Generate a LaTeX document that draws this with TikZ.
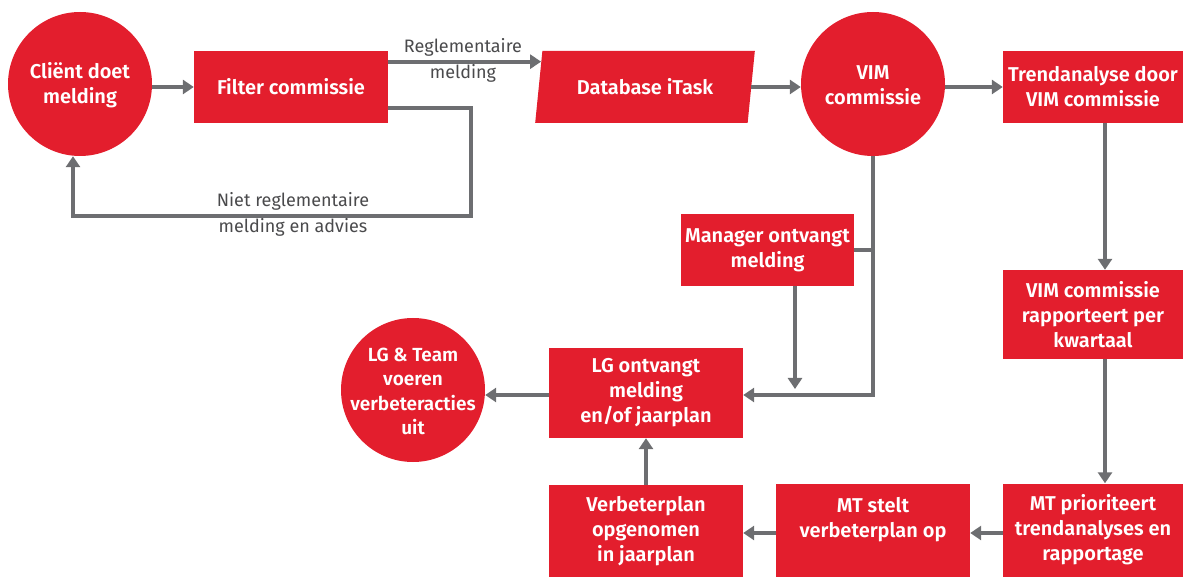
\documentclass[tikz,border=0pt]{standalone}
\usepackage{fontspec}
\setmainfont{Fira Sans}[BoldFont={Fira Sans SemiBold}]
\usetikzlibrary{shapes.geometric,arrows.meta,calc}
\definecolor{vred}{HTML}{E31E2D}
\definecolor{vgray}{HTML}{6D6E71}
\definecolor{tgray}{HTML}{4A4A4C}
\begin{document}
\begin{tikzpicture}[x=1pt,y=-1pt,
  every node/.style={inner sep=0pt, align=center},
  txt/.style={font=\fontsize{20}{25}\selectfont\bfseries, text=white},
  box/.style={txt, fill=vred},
  circ/.style={circle, fill=vred, minimum size=144pt, label={[txt, yshift=-1.5pt]center:#1}},
  circsm/.style={circle, fill=vred, minimum size=144pt,
    label={[txt, font=\fontsize{19}{24.5}\selectfont\bfseries, yshift=-1.5pt]center:#1}},
  dbshape/.style={txt, trapezium, trapezium left angle=73.7, trapezium right angle=106.3,
    trapezium stretches=true, minimum width=220pt, minimum height=72pt, fill=vred},
  lbl/.style={font=\fontsize{18}{26}\selectfont, text=tgray},
  conn/.style={draw=vgray, line width=4pt},
  arr/.style={conn, -{Triangle[length=11pt,width=14pt]}}]
\useasboundingbox (0,0) rectangle (1187,577);
% nodes
\node[circ={Cliënt doet\\melding}] (client) at (80,84) {};
\node[box, minimum width=194pt, minimum height=72pt] (filter) at (291,87) {Filter commissie};
\node[dbshape] (db) at (645,87) {Database iTask};
\node[circ={VIM\\commissie}] (vim) at (873,84) {};
\node[box, minimum width=180pt, minimum height=72pt] (trend) at (1093,87) {Trendanalyse door\\VIM commissie};
\node[box, minimum width=180pt, minimum height=89pt] (vimrap) at (1093,314.5) {VIM commissie\\rapporteert per\\kwartaal};
\node[box, minimum width=180pt, minimum height=93pt] (mtprio) at (1093,530) {MT prioriteert\\trendanalyses en\\rapportage};
\node[box, minimum width=194pt, minimum height=93pt] (mtstelt) at (873,530) {MT stelt\\verbeterplan op\\\mbox{}};
\node[box, minimum width=194pt, minimum height=92pt] (verbeter) at (646,531) {Verbeterplan\\opgenomen\\in jaarplan};
\node[box, minimum width=194pt, minimum height=90pt] (lg) at (646,393) {LG ontvangt\\melding\\en/of jaarplan};
\node[circsm={LG \& Team\\voeren\\verbeteracties\\uit}] (lgteam) at (413,390) {};
\node[box, minimum width=173pt, minimum height=72pt] (manager) at (767.5,250) {Manager ontvangt\\melding};
% helper coordinates
\coordinate (dbin) at ($(db.top left corner)!0.15!(db.bottom left corner)$);
\coordinate (c1) at (471,216);
\coordinate (mgrend) at (795,389);
% connectors
\draw[arr] (client.east |- filter.west) -- (filter.west);
\draw[arr] (filter.east |- dbin) -- (dbin);
\node[lbl] (lblreg) at (463,60) {Reglementaire\\melding};
\draw[arr] ([yshift=-21pt]filter.east) -| (c1) -| ([xshift=-7pt]client.south);
\node[lbl] (lblniet) at (293,214) {Niet reglementaire\\melding en advies};
\draw[arr] (db.east) -- (db.east -| vim.west);
\draw[arr] (vim.east |- trend.west) -- (trend.west);
\draw[arr] ([xshift=12pt]trend.south) -- ([xshift=12pt]vimrap.north);
\draw[arr] ([xshift=12pt]vimrap.south) -- ([xshift=12pt]mtprio.north);
\draw[arr] ([yshift=-3pt]mtprio.west) -- ([yshift=-3pt]mtstelt.east);
\draw[arr] ([yshift=-3pt]mtstelt.west) -- ([yshift=-3pt]mtstelt.west -| verbeter.east);
\draw[arr] (verbeter.north) -- (lg.south);
\draw[arr] ([yshift=-2pt]lg.west) -- ([yshift=-2pt]lg.west -| lgteam.east);
\draw[arr] (vim.south) |- ([yshift=-2pt]lg.east);
\draw[conn] (manager.east) -- (manager.east -| vim.south);
\draw[arr] (manager.south -| mgrend) -- (mgrend);
\end{tikzpicture}
\end{document}
